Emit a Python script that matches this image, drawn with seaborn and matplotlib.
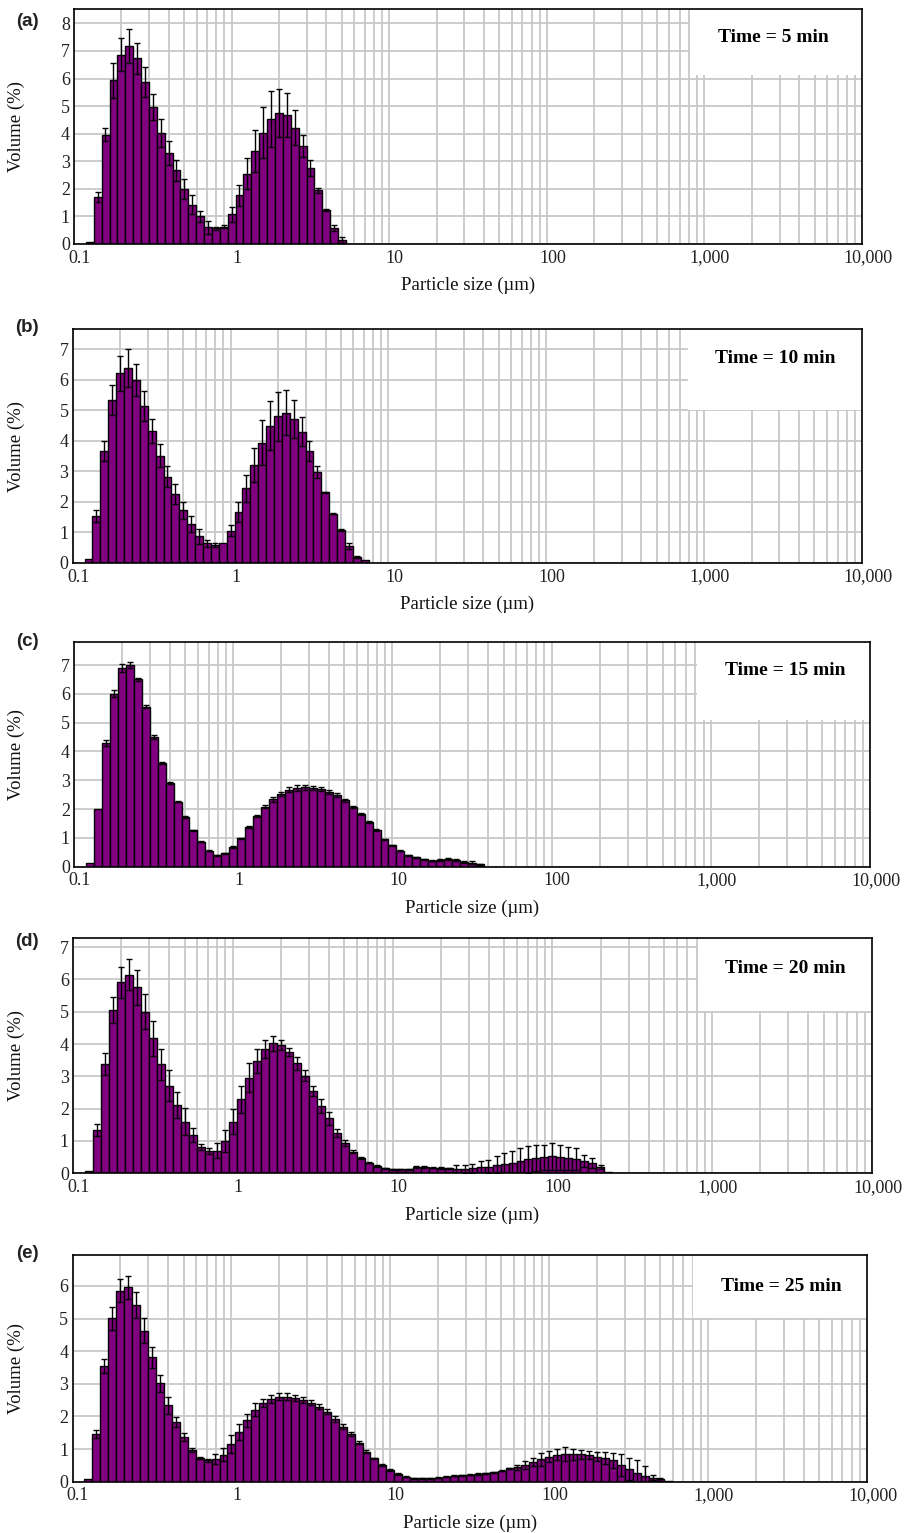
import numpy as np
import pandas as pd
import matplotlib
matplotlib.use("Agg")
import matplotlib.pyplot as plt
import seaborn as sns
from matplotlib.patches import Rectangle
from matplotlib.transforms import ScaledTranslation
from matplotlib.ticker import LogLocator, NullFormatter, FixedLocator, FixedFormatter

# ---------------- data ----------------
# size class centres (µm), 20 classes per decade
size_um = [0.126, 0.141, 0.158, 0.178, 0.2, 0.224, 0.251, 0.282, 0.316, 0.355,
           0.398, 0.447, 0.501, 0.562, 0.631, 0.708, 0.794, 0.891, 1.0, 1.12,
           1.26, 1.41, 1.58, 1.78, 2.0, 2.24, 2.51, 2.82, 3.16, 3.55,
           3.98, 4.47, 5.01, 5.62, 6.31, 7.08, 7.94, 8.91, 10.0, 11.2,
           12.6, 14.1, 15.8, 17.8, 20.0, 22.4, 25.1, 28.2, 31.6, 35.5,
           39.8, 44.7, 50.1, 56.2, 63.1, 70.8, 79.4, 89.1, 100.0, 112.0,
           126.0, 141.0, 158.0, 178.0, 200.0, 224.0, 251.0, 282.0, 316.0, 355.0,
           398.0, 447.0, 501.0, 562.0]

vol_5min = [0.07, 1.7, 3.96, 5.94, 6.87, 7.18, 6.73, 5.88, 4.97, 4.02,
            3.3, 2.67, 2.0, 1.43, 1.0, 0.6, 0.57, 0.63, 1.07, 1.76,
            2.55, 3.37, 4.04, 4.52, 4.76, 4.67, 4.22, 3.55, 2.75, 1.94,
            1.24, 0.58, 0.15]
err_5min = [0.0, 0.19, 0.24, 0.63, 0.6, 0.6, 0.57, 0.55, 0.48, 0.5,
            0.42, 0.39, 0.36, 0.33, 0.2, 0.22, 0.05, 0.05, 0.27, 0.39,
            0.57, 0.75, 0.93, 1.02, 0.87, 0.79, 0.63, 0.39, 0.28, 0.08,
            0.04, 0.12, 0.12]

vol_10min = [0.13, 1.55, 3.67, 5.34, 6.21, 6.37, 5.99, 5.15, 4.32, 3.51,
             2.83, 2.27, 1.72, 1.29, 0.87, 0.65, 0.58, 0.65, 1.06, 1.67,
             2.44, 3.21, 3.94, 4.49, 4.81, 4.92, 4.71, 4.3, 3.67, 2.97,
             2.32, 1.61, 1.07, 0.57, 0.2, 0.09]
err_10min = [0.0, 0.2, 0.33, 0.49, 0.57, 0.62, 0.51, 0.49, 0.39, 0.38,
             0.33, 0.33, 0.27, 0.26, 0.24, 0.11, 0.06, 0.0, 0.17, 0.32,
             0.45, 0.57, 0.74, 0.8, 0.8, 0.74, 0.61, 0.47, 0.33, 0.19,
             0.02, 0.02, 0.03, 0.1, 0.03, 0.0]

vol_15min = [0.12, 2.0, 4.3, 6.0, 6.9, 7.0, 6.5, 5.55, 4.5, 3.6,
             2.9, 2.26, 1.73, 1.27, 0.87, 0.55, 0.4, 0.46, 0.69, 0.98,
             1.39, 1.76, 2.08, 2.34, 2.53, 2.67, 2.73, 2.75, 2.73, 2.69,
             2.6, 2.49, 2.31, 2.08, 1.82, 1.56, 1.27, 0.95, 0.75, 0.55,
             0.4, 0.32, 0.26, 0.21, 0.23, 0.26, 0.23, 0.17, 0.14, 0.09]
err_15min = [0.0, 0.0, 0.1, 0.12, 0.15, 0.12, 0.06, 0.05, 0.07, 0.03,
             0.04, 0.03, 0.03, 0.02, 0.02, 0.02, 0.02, 0.02, 0.03, 0.03,
             0.03, 0.04, 0.05, 0.09, 0.08, 0.09, 0.1, 0.1, 0.08, 0.06,
             0.06, 0.07, 0.05, 0.04, 0.03, 0.03, 0.03, 0.02, 0.02, 0.02,
             0.02, 0.02, 0.02, 0.02, 0.03, 0.03, 0.03, 0.03, 0.06, 0.02]

vol_20min = [0.07, 1.34, 3.37, 5.05, 5.91, 6.15, 5.75, 5.0, 4.18, 3.37,
             2.71, 2.11, 1.6, 1.19, 0.82, 0.69, 0.7, 1.0, 1.6, 2.29,
             2.96, 3.48, 3.85, 4.02, 3.97, 3.76, 3.4, 3.02, 2.55, 2.08,
             1.7, 1.24, 0.93, 0.67, 0.48, 0.33, 0.23, 0.15, 0.12, 0.12,
             0.12, 0.2, 0.2, 0.17, 0.16, 0.15, 0.12, 0.13, 0.15, 0.18,
             0.21, 0.26, 0.29, 0.33, 0.38, 0.43, 0.48, 0.49, 0.52, 0.49,
             0.46, 0.43, 0.38, 0.31, 0.19, 0.03]
err_20min = [0.0, 0.18, 0.34, 0.39, 0.48, 0.49, 0.54, 0.54, 0.54, 0.49,
             0.48, 0.41, 0.41, 0.21, 0.1, 0.08, 0.23, 0.34, 0.38, 0.42,
             0.44, 0.38, 0.28, 0.23, 0.15, 0.12, 0.21, 0.18, 0.16, 0.21,
             0.2, 0.13, 0.1, 0.05, 0.03, 0.02, 0.02, 0.02, 0.02, 0.02,
             0.02, 0.03, 0.03, 0.02, 0.02, 0.02, 0.13, 0.12, 0.15, 0.19,
             0.21, 0.26, 0.33, 0.36, 0.39, 0.42, 0.41, 0.38, 0.41, 0.38,
             0.36, 0.34, 0.19, 0.15, 0.07, 0.0]

vol_25min = [0.07, 1.46, 3.55, 5.01, 5.86, 5.96, 5.42, 4.63, 3.81, 3.02,
             2.35, 1.84, 1.36, 0.97, 0.72, 0.66, 0.69, 0.82, 1.16, 1.53,
             1.89, 2.2, 2.42, 2.54, 2.61, 2.61, 2.56, 2.5, 2.42, 2.3,
             2.15, 1.92, 1.69, 1.46, 1.2, 0.92, 0.72, 0.51, 0.36, 0.24,
             0.15, 0.1, 0.1, 0.1, 0.12, 0.15, 0.18, 0.2, 0.22, 0.24,
             0.26, 0.29, 0.34, 0.41, 0.44, 0.51, 0.61, 0.69, 0.77, 0.82,
             0.84, 0.84, 0.84, 0.82, 0.77, 0.72, 0.66, 0.51, 0.39, 0.28,
             0.18, 0.12, 0.07, 0.02]
err_25min = [0.0, 0.12, 0.21, 0.36, 0.36, 0.36, 0.41, 0.38, 0.31, 0.26,
             0.26, 0.15, 0.12, 0.07, 0.03, 0.05, 0.16, 0.2, 0.28, 0.24,
             0.2, 0.2, 0.13, 0.12, 0.12, 0.12, 0.1, 0.1, 0.08, 0.08,
             0.07, 0.1, 0.07, 0.07, 0.05, 0.05, 0.02, 0.02, 0.02, 0.02,
             0.02, 0.02, 0.02, 0.02, 0.02, 0.02, 0.02, 0.02, 0.02, 0.02,
             0.02, 0.02, 0.02, 0.02, 0.08, 0.12, 0.13, 0.2, 0.17, 0.17,
             0.21, 0.16, 0.14, 0.12, 0.13, 0.18, 0.23, 0.34, 0.33, 0.39,
             0.3, 0.08, 0.04, 0.0]

time_min = ["5", "10", "15", "20", "25"]
panel_tags = ["(a)", "(b)", "(c)", "(d)", "(e)"]
y_max_tick = [8, 7, 7, 7, 6]
xtick_values = [0.1, 1, 10, 100, 1000, 10000]
xtick_labels = ["0.1", "1", "10", "100", "1,000", "10,000"]

volumes = [vol_5min, vol_10min, vol_15min, vol_20min, vol_25min]
errors = [err_5min, err_10min, err_15min, err_20min, err_25min]

# ---------------- layout (pixels) ----------------
W, H = 911, 1533
ax_px = [  # left, right, top, bottom
    (74, 862, 9, 244),
    (72.7, 862, 329, 563),
    (74, 870, 641.7, 866.7),
    (73, 872, 938.3, 1173.3),
    (72.5, 867, 1255, 1481.7),
]
ylims = [8.52, 7.66, 7.81, 7.27, 6.95]
box_xy = [(0.782, 0.719), (0.780, 0.654), (0.783, 0.652), (0.782, 0.692), (0.781, 0.722)]
text_xy = [(0.887, 0.877), (0.890, 0.876), (0.893, 0.870), (0.891, 0.872), (0.892, 0.859)]
tag_xy = [(27, 22), (27, 328), (27, 641), (27, 941), (27, 1253)]

sns.set_style("white")
plt.rcParams["font.family"] = ["Liberation Serif", "DejaVu Serif"]

fig = plt.figure(figsize=(W / 100, H / 100), dpi=100)
grid_color = "#c8c8c8"
bar_color = "#800080"
BIN = 0.05  # log10 width of one size class

for i in range(5):
    l, r, t, b = ax_px[i]
    ax = fig.add_axes([l / W, 1 - b / H, (r - l) / W, (b - t) / H])
    vol = volumes[i]
    err = errors[i]
    n = len(vol)
    df = pd.DataFrame({"size": size_um[:n], "volume": vol, "err": err})
    start = np.log10(size_um[0]) - BIN / 2
    sns.histplot(data=df, x="size", weights="volume", binwidth=BIN,
                 binrange=(start, start + BIN * n), log_scale=True, ax=ax,
                 color=bar_color, alpha=1, edgecolor="black", linewidth=1.0,
                 stat="count", zorder=2)
    m = df["err"] > 0
    ax.errorbar(df["size"][m], df["volume"][m], yerr=df["err"][m], fmt="none",
                ecolor="black", elinewidth=1.0, capsize=2.2, capthick=1.0, zorder=3)

    ax.set_xscale("log")
    ax.set_xlim(0.1, 10000)
    ax.set_ylim(0, ylims[i])
    ax.set_axisbelow(True)
    ax.xaxis.set_major_locator(FixedLocator(xtick_values))
    ax.xaxis.set_major_formatter(FixedFormatter(xtick_labels))
    ax.xaxis.set_minor_locator(LogLocator(base=10, subs=np.arange(2, 10)))
    ax.xaxis.set_minor_formatter(NullFormatter())
    ax.set_yticks(list(range(0, y_max_tick[i] + 1)))
    ax.grid(True, which="both", axis="x", color=grid_color, lw=1.3)
    ax.grid(True, which="major", axis="y", color=grid_color, lw=1.3)
    ax.tick_params(axis="both", which="both", length=0, labelsize=13,
                   labelcolor="#222222")
    ax.tick_params(axis="x", pad=4)
    ax.tick_params(axis="y", pad=3)
    for lab in ax.get_xticklabels():
        lab.set_transform(lab.get_transform() + ScaledTranslation(4 / 72, 0, fig.dpi_scale_trans))
    for sp in ax.spines.values():
        sp.set_color("black")
        sp.set_linewidth(1.2)
        sp.set_visible(True)

    ax.set_ylabel("Volume (%)", fontsize=13.5, color="#111111")
    ax.yaxis.set_label_coords((25 - l) / (r - l), 0.5)
    ax.set_xlabel("Particle size (µm)", fontsize=13.5, color="#111111")
    ax.xaxis.set_label_coords(0.5, -33 / (b - t))
    ax.xaxis.label.set_va("top")

    bx, by = box_xy[i]
    ax.add_patch(Rectangle((bx, by), 1 - bx, 1 - by, transform=ax.transAxes,
                           facecolor="white", edgecolor="none", zorder=0.8))
    tx, ty = text_xy[i]
    ax.text(tx, ty, f"Time = {time_min[i]} min", transform=ax.transAxes,
            ha="center", va="center", fontsize=14, fontweight="bold",
            color="black", zorder=4)

    px, py = tag_xy[i]
    fig.text(px / W, 1 - py / H, panel_tags[i], ha="center", va="center",
             fontsize=13.5, fontweight="bold", family=["Liberation Sans", "DejaVu Sans"],
             color="#222222")

fig.savefig("out.png", dpi=100)
